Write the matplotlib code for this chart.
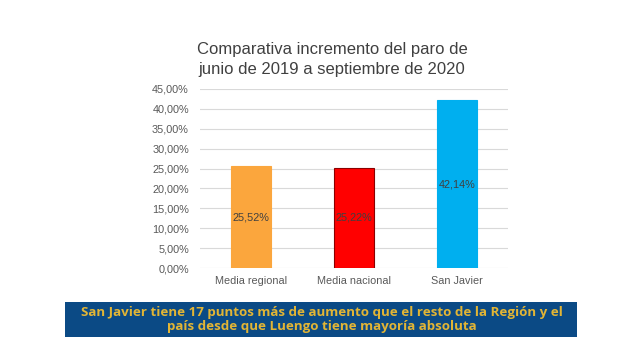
import matplotlib.pyplot as plt
from matplotlib.ticker import FuncFormatter

categorias = ['Media regional', 'Media nacional', 'San Javier']
incremento = [25.52, 25.22, 42.14]
etiquetas = ['25,52%', '25,22%', '42,14%']
colores = ['#FBA63D', '#FF0000', '#00AFEF']
bordes = ['#FBA63D', '#8B0000', '#00AFEF']

titulo = 'Comparativa incremento del paro de\njunio de 2019 a septiembre de 2020'
banner = ('San Javier tiene 17 puntos más de aumento que el resto de la Región y el\n'
          'país desde que Luengo tiene mayoría absoluta')

fig = plt.figure(figsize=(6.4, 3.6), dpi=100)
fig.patch.set_facecolor('white')

# ejes: x 200..508 px, y 89..268 px
ax = fig.add_axes([200/640, 1 - 268/360, 308/640, 179/360])
x = range(len(categorias))
bars = ax.bar(x, incremento, width=0.39, color=colores, edgecolor=bordes,
              linewidth=0.8, zorder=3)
for b, v, t in zip(bars, incremento, etiquetas):
    ax.text(b.get_x() + b.get_width()/2, v/2, t, ha='center', va='center',
            fontsize=7.8, color='#404040', family='Liberation Sans', zorder=4)

ax.set_xlim(-0.5, 2.5)
ax.set_ylim(0, 45)
ax.set_yticks(range(0, 46, 5))
ax.yaxis.set_major_formatter(FuncFormatter(lambda v, p: f'{v:.2f}'.replace('.', ',') + '%'))
ax.set_xticks(list(x))
ax.set_xticklabels(categorias)
ax.grid(axis='y', color='#D9D9D9', linewidth=0.8, zorder=0)
for s in ax.spines.values():
    s.set_visible(False)
ax.tick_params(length=0, labelsize=7.8, colors='#595959', pad=8)
ax.tick_params(axis='x', pad=6)
for lab in ax.get_xticklabels() + ax.get_yticklabels():
    lab.set_family('Liberation Sans')

fig.text(332/640, 1 - 59.5/360, titulo, ha='center', va='center', fontsize=12,
         color='#404040', family='Liberation Sans', linespacing=1.35)

# franja inferior
fig.patches.append(plt.Rectangle((65/640, 1 - 337/360), 512/640, 35/360,
                                 transform=fig.transFigure, facecolor='#0B4A85',
                                 edgecolor='none'))
fig.text(322/640, 1 - 319.5/360, banner, ha='center', va='center', fontsize=9.6,
         color='#E2B535', family='Open Sans', fontweight='bold', linespacing=1.12)

fig.savefig('out.png', dpi=100)
